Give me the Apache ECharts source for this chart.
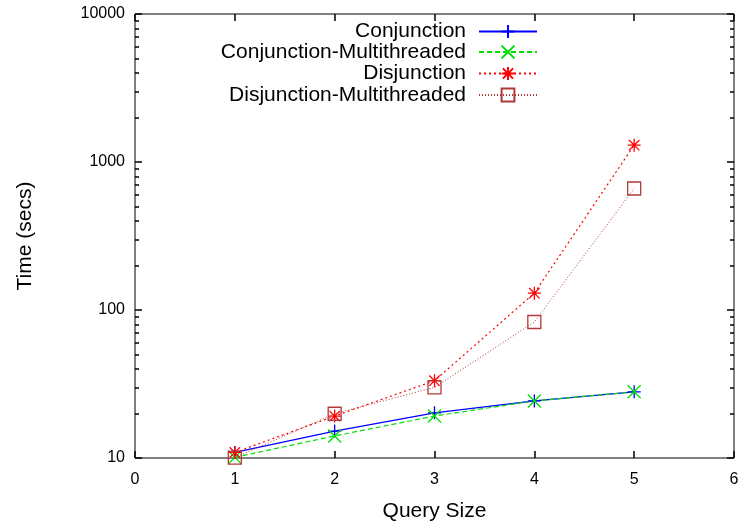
<!DOCTYPE html>
<html>
<head>
<meta charset="utf-8">
<script src="https://cdn.jsdelivr.net/npm/echarts@6/dist/echarts.min.js"></script>
<style>
  html, body { margin: 0; padding: 0; background: #fff; }
  #chart { width: 738px; height: 525px; }
</style>
</head>
<body>
<div id="chart"></div>
<script>
// Query size on x, run time (seconds, log scale) on y
const querySizes = [1, 2, 3, 4, 5];
const conjunction = [10.9, 15.2, 20.2, 24.3, 28.0];
const conjunctionMT = [10.1, 14.1, 19.2, 24.3, 28.0];
const disjunction = [10.9, 19.2, 33.3, 130, 1300];
const disjunctionMT = [10.05, 19.9, 30.0, 83, 662];
const seriesNames = ['Conjunction', 'Conjunction-Multithreaded', 'Disjunction', 'Disjunction-Multithreaded'];
const yMinorTicks = [20, 30, 40, 50, 60, 70, 80, 90,
                     200, 300, 400, 500, 600, 700, 800, 900,
                     2000, 3000, 4000, 5000, 6000, 7000, 8000, 9000];

const FONT = '"Liberation Sans", Arial, Helvetica, sans-serif';

// gnuplot-style point shapes
const SYM_PLUS = 'path://M5,0L5,10M0,5L10,5';
const SYM_CROSS = 'path://M0,0L10,10M0,10L10,0';
const SYM_STAR = 'path://M5,0L5,10M0,5L10,5M1,1L9,9M1,9L9,1';
const SYM_BOX = 'path://M0,0L10,0L10,10L0,10Z';

function pairs(ys) { return querySizes.map((x, i) => [x, ys[i]]); }

function makeSeries(name, ys, color, dash, symbol, size, width) {
  return {
    name: name,
    type: 'line',
    data: pairs(ys),
    xAxisIndex: 0,
    yAxisIndex: 0,
    symbol: symbol,
    symbolSize: size,
    showAllSymbol: true,
    lineStyle: { color: color, width: width, type: dash },
    itemStyle: { color: 'rgba(0,0,0,0)', borderColor: color, borderWidth: 1.3 },
    emphasis: { disabled: true },
    z: 3
  };
}

const series = [
  makeSeries(seriesNames[0], conjunction, '#0000ff', 'solid', SYM_PLUS, 13, 1.2),
  makeSeries(seriesNames[1], conjunctionMT, '#00e000', [5, 3], SYM_CROSS, 13, 1.2),
  makeSeries(seriesNames[2], disjunction, '#ff0000', [2, 3], SYM_STAR, 13, 1.2),
  makeSeries(seriesNames[3], disjunctionMT, '#b03a3a', [1, 2], SYM_BOX, 13, 1.0)
];

// one legend per row so each row is right-aligned with its sample on the right
const rowCenters = [32, 52.5, 74, 95.5];
const legends = seriesNames.map((n, i) => ({
  data: [n],
  orient: 'vertical',
  align: 'right',
  right: 200,
  top: rowCenters[i] - 11,
  padding: 0,
  itemWidth: 58,
  itemHeight: 16,
  selectedMode: false,
  textStyle: { fontFamily: FONT, fontSize: 21, color: '#000', padding: [0, 8, 0, 0] }
}));

function majorTick() {
  return { show: true, inside: true, length: 7, lineStyle: { color: '#000', width: 1.5 } };
}
function minorTick() {
  return { show: true, inside: true, length: 4, lineStyle: { color: '#000', width: 1.5 },
           customValues: yMinorTicks };
}
function hiddenLine() { return { show: false, onZero: false }; }

function logAxis(position, tick, extra) {
  return Object.assign({
    type: 'log', logBase: 10, min: 10, max: 10000, position: position,
    axisLine: hiddenLine(), axisTick: tick, splitLine: { show: false }, axisLabel: { show: false }
  }, extra || {});
}

const chart = echarts.init(document.getElementById('chart'), null, { renderer: 'canvas' });
chart.setOption({
  animation: false,
  backgroundColor: '#fff',
  grid: { left: 135, right: 4, top: 14, bottom: 67, outerBoundsMode: 'none',
          show: true, borderColor: '#000', borderWidth: 1 },
  legend: legends,
  xAxis: [
    {
      type: 'value', min: 0, max: 6, interval: 1, position: 'bottom',
      name: 'Query Size', nameLocation: 'middle', nameGap: 43,
      nameTextStyle: { fontFamily: FONT, fontSize: 21, color: '#000' },
      axisLine: hiddenLine(), axisTick: majorTick(), splitLine: { show: false },
      axisLabel: { fontFamily: FONT, fontSize: 16, color: '#000', margin: 14 }
    },
    {
      type: 'value', min: 0, max: 6, interval: 1, position: 'top',
      axisLine: hiddenLine(), axisTick: majorTick(), splitLine: { show: false },
      axisLabel: { show: false }
    }
  ],
  yAxis: [
    logAxis('left', majorTick(), {
      name: 'Time (secs)', nameLocation: 'middle', nameGap: 99,
      nameTextStyle: { fontFamily: FONT, fontSize: 21, color: '#000' },
      axisLabel: { fontFamily: FONT, fontSize: 16, color: '#000', margin: 10,
                   formatter: v => String(Math.round(v)) }
    }),
    logAxis('left', minorTick()),
    logAxis('right', majorTick()),
    logAxis('right', minorTick())
  ],
  series: series
});
</script>
</body>
</html>
